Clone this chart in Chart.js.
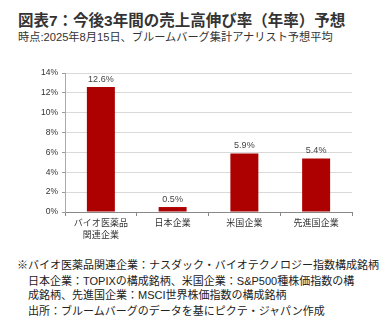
<!DOCTYPE html>
<html lang="ja">
<head>
<meta charset="utf-8">
<script src="https://cdn.jsdelivr.net/npm/chart.js@4"></script>
<style>
  html, body { margin: 0; padding: 0; background: #fff; }
  body { width: 388px; height: 327px; position: relative; overflow: hidden;
         font-family: "Liberation Sans", "Noto Sans CJK JP", sans-serif; color: #333; }
  .txt { position: absolute; white-space: nowrap; line-height: 1; }
  #title { left: 18px; top: 13px; font-size: 15.5px; font-weight: bold; color: #333; }
  #subtitle { left: 18px; top: 32px; font-size: 11.2px; color: #333; }
  #box { position: absolute; left: 0; top: 60px; width: 388px; height: 185px; }
  .note { font-size: 11px; color: #222; }
</style>
</head>
<body>
<div id="title" class="txt">図表7：今後3年間の売上高伸び率（年率）予想</div>
<div id="subtitle" class="txt">時点:2025年8月15日、ブルームバーグ集計アナリスト予想平均</div>
<div id="box"><canvas id="chart"></canvas></div>
<div class="txt note" style="left:17px; top:260px;">※バイオ医薬品関連企業：ナスダック・バイオテクノロジー指数構成銘柄</div>
<div class="txt note" style="left:28px; top:276px;">日本企業：TOPIXの構成銘柄、米国企業：S&amp;P500種株価指数の構</div>
<div class="txt note" style="left:28px; top:290px;">成銘柄、先進国企業：MSCI世界株価指数の構成銘柄</div>
<div class="txt note" style="left:28px; top:306px;">出所：ブルームバーグのデータを基にピクテ・ジャパン作成</div>

<script>
// Categories and annualised sales growth forecasts (%)
const categories = [["バイオ医薬品", "関連企業"], "日本企業", "米国企業", "先進国企業"];
const growthRates = [12.6, 0.5, 5.9, 5.4];
const yTicks = [0, 2, 4, 6, 8, 10, 12, 14];

const FONT = '"Liberation Sans", "Noto Sans CJK JP", sans-serif';

// Writes each bar's value above it
const valueLabels = {
  id: 'valueLabels',
  afterDatasetsDraw(chart) {
    const ctx = chart.ctx;
    const meta = chart.getDatasetMeta(0);
    ctx.save();
    ctx.font = '9px ' + FONT;
    ctx.fillStyle = '#444';
    ctx.textAlign = 'center';
    ctx.textBaseline = 'middle';
    meta.data.forEach((bar, i) => {
      ctx.fillText(growthRates[i].toFixed(1) + '%', bar.x, bar.y - 7.5);
    });
    ctx.restore();
  }
};

new Chart(document.getElementById('chart'), {
  type: 'bar',
  data: {
    labels: categories,
    datasets: [{
      data: growthRates,
      backgroundColor: '#AD0000',
      borderWidth: 0,
      categoryPercentage: 1,
      barPercentage: 0.39
    }]
  },
  options: {
    responsive: true,
    maintainAspectRatio: false,
    animation: false,
    events: [],
    layout: { padding: { top: 13, right: 36, left: 0, bottom: 0 } },
    plugins: { legend: { display: false }, tooltip: { enabled: false } },
    scales: {
      x: {
        grid: { drawOnChartArea: false, tickLength: 4, tickColor: '#888', offset: true },
        border: { color: '#888', width: 1 },
        ticks: { font: { size: 9, family: FONT, lineHeight: 1.3 }, color: '#333', padding: 2, maxRotation: 0, autoSkip: false },
        afterFit(scale) { scale.height = 33; }
      },
      y: {
        min: 0,
        max: 14,
        afterBuildTicks(scale) { scale.ticks = yTicks.map(v => ({ value: v })); },
        grid: { color: '#d9d9d9', tickLength: 3, tickColor: '#999' },
        border: { color: '#aaa', width: 1 },
        ticks: { font: { size: 8.5, family: FONT }, color: '#333', padding: 4, callback: v => v + '%' },
        afterFit(scale) { scale.width = 65; }
      }
    }
  },
  plugins: [valueLabels]
});
</script>
</body>
</html>
